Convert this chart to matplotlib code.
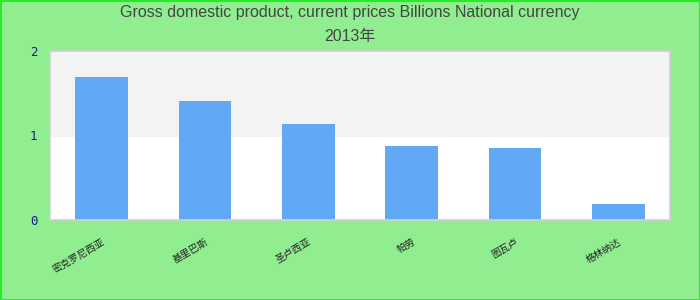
import matplotlib.pyplot as plt

# data (2013, billions, national currency)
countries = ['密克罗尼西亚', '基里巴斯', '圣卢西亚', '帕劳', '图瓦卢', '格林纳达']
gdp = [1.69, 1.41, 1.14, 0.876, 0.852, 0.19]
yticks = [0, 1, 2]

bg = '#90ee90'
bar_color = '#61a9f5'

fig = plt.figure(figsize=(7, 3), dpi=100, facecolor=bg)
fig.patch.set_edgecolor('#22ee22')
fig.patch.set_linewidth(2)
ax = fig.add_axes([50 / 700, 1 - 220 / 300, 620 / 700, 169 / 300])
ax.set_facecolor('white')

# alternating band between 1 and 2
ax.axhspan(1, 2, color='#f3f3f3', zorder=0)

x = range(len(countries))
ax.bar(x, gdp, width=0.51, color=bar_color, zorder=2)

ax.set_xlim(-0.5, len(countries) - 0.5)
ax.set_ylim(0, 2)
ax.set_yticks(yticks)
ax.set_yticklabels([str(v) for v in yticks], family='DejaVu Sans Mono',
                   fontsize=9, color='#1a1a8c')
ax.set_xticks(list(x))
ax.set_xticklabels(countries, rotation=30, ha='right', rotation_mode='anchor',
                   family=['Noto Sans CJK SC', 'DejaVu Sans'], fontsize=7, color='#222222')
ax.tick_params(axis='both', length=0, pad=9)
ax.tick_params(axis='x', pad=12)

for s in ax.spines.values():
    s.set_color('#d0d0d0')
    s.set_linewidth(1.2)

fig.text(0.5, 1 - 13 / 300, 'Gross domestic product, current prices Billions National currency',
         ha='center', va='center', fontsize=11.5, color='#444444', family='Liberation Sans')
fig.text(0.5, 1 - 37 / 300, '2013年', ha='center', va='center', fontsize=11.5,
         color='#444444', family=['Liberation Sans', 'Noto Sans CJK SC'])

fig.savefig('out.png', dpi=100, facecolor=bg, edgecolor=fig.patch.get_edgecolor())
